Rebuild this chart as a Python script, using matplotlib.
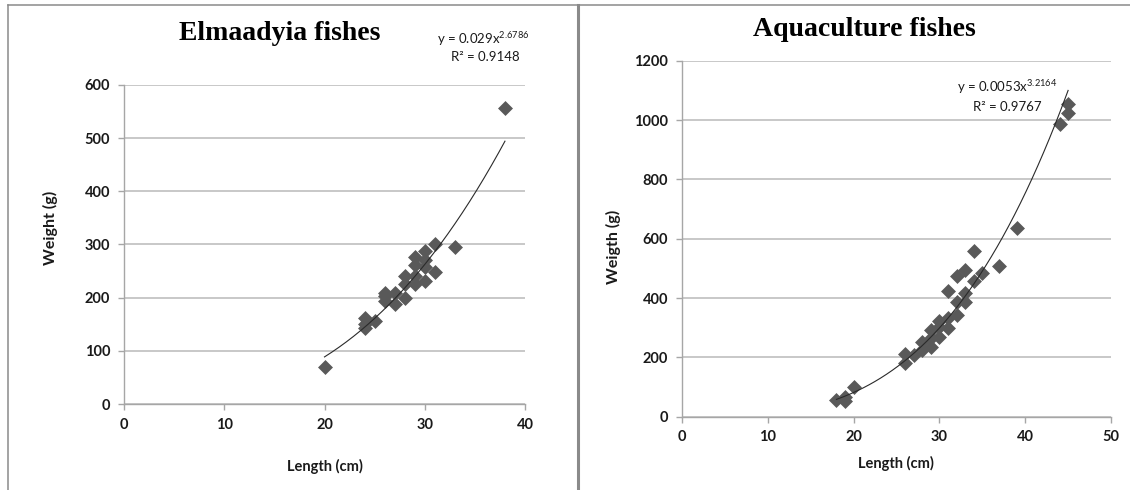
import numpy as np
import matplotlib
matplotlib.use("Agg")
import matplotlib.pyplot as plt
from matplotlib.lines import Line2D

plt.rcParams['font.family'] = ['Lato', 'DejaVu Sans']
plt.rcParams['mathtext.fontset'] = 'custom'
plt.rcParams['mathtext.rm'] = 'Lato'

# Elmaadyia fishes
elm_length = [20, 24, 24, 24, 25, 26, 26, 26, 27, 27, 28, 28, 28, 29, 29, 29, 29,
              30, 30, 30, 30, 31, 31, 33, 38]
elm_weight = [70, 162, 150, 143, 156, 203, 194, 208, 188, 209, 200, 226, 241, 241, 226, 276, 262,
              287, 257, 232, 270, 300, 249, 295, 556]
elm_fit = (0.029, 2.6786)
elm_r2 = 0.9148

# Aquaculture fishes
aq_length = [18, 19, 19, 20, 26, 26, 27, 28, 28, 29, 29, 29, 30, 30, 30, 31, 31, 31,
             32, 32, 32, 33, 33, 33, 34, 34, 35, 37, 39, 44, 45, 45]
aq_weight = [55, 54, 65, 99, 180, 211, 208, 225, 253, 234, 265, 292, 301, 321, 267, 299, 332, 422,
             343, 388, 473, 388, 417, 496, 456, 558, 485, 509, 636, 987, 1054, 1024]
aq_fit = (0.0053, 3.2164)
aq_r2 = 0.9767

W, H = 1130, 490
fig = plt.figure(figsize=(W / 100, H / 100), dpi=100)


def fx(px):
    return px / W


def fy(py):
    return 1 - py / H


def panel(rect, xs, ys, fit, xmax, ymax, ystep):
    ax = fig.add_axes(rect)
    ax.scatter(xs, ys, marker='D', s=58, color='#595959', linewidths=0, zorder=3)
    a, b = fit
    xx = np.linspace(min(xs), max(xs), 200)
    ax.plot(xx, a * xx ** b, color='#2a2a2a', lw=0.8, zorder=4)
    ax.set_xlim(0, xmax)
    ax.set_ylim(0, ymax)
    ax.set_xticks(np.arange(0, xmax + 1, 10))
    ax.set_yticks(np.arange(0, ymax + 1, ystep))
    ax.yaxis.grid(True, color='#c4c4c4', lw=1.3)
    ax.set_axisbelow(True)
    for s in ['top', 'right']:
        ax.spines[s].set_visible(False)
    for s in ['left', 'bottom']:
        ax.spines[s].set_color('#a6a6a6')
        ax.spines[s].set_linewidth(1)
    ax.tick_params(direction='out', length=4, width=1, color='#a6a6a6',
                   labelsize=10.5, pad=6, labelcolor='#1a1a1a')
    for t in ax.get_xticklabels() + ax.get_yticklabels():
        t.set_fontweight('bold')
    return ax


ax1 = panel([fx(124), fy(404), (525 - 124) / W, (404 - 85) / H],
            elm_length, elm_weight, elm_fit, 40, 600, 100)
ax2 = panel([fx(682), fy(416.5), (1111 - 682) / W, (416.5 - 61) / H],
            aq_length, aq_weight, aq_fit, 50, 1200, 200)

# titles
fig.text(fx(280), fy(34), 'Elmaadyia fishes', family='Liberation Serif',
         fontweight='bold', fontsize=20, ha='center', va='center')
fig.text(fx(864), fy(29), 'Aquaculture fishes', family='Liberation Serif',
         fontweight='bold', fontsize=20, ha='center', va='center')

# axis labels
fig.text(fx(325), fy(466), 'Length (cm)', fontsize=10.5, fontweight='bold',
         ha='center', va='center', color='#1a1a1a')
fig.text(fx(896), fy(463), 'Length (cm)', fontsize=10.5, fontweight='bold',
         ha='center', va='center', color='#1a1a1a')
fig.text(fx(50), fy(228), 'Weight (g)', fontsize=11.5, fontweight='bold',
         ha='center', va='center', rotation=90, color='#1a1a1a')
fig.text(fx(613), fy(247), 'Weigth (g)', fontsize=11.5, fontweight='bold',
         ha='center', va='center', rotation=90, color='#1a1a1a')

# trendline equations
fig.text(fx(483), fy(39), 'y = %gx$^{\\mathrm{%g}}$' % elm_fit, fontsize=9.5,
         ha='center', va='center', color='#1a1a1a')
fig.text(fx(485), fy(57), 'R² = %.4f' % elm_r2, fontsize=9.5,
         ha='center', va='center', color='#1a1a1a')
fig.text(fx(1007), fy(87), 'y = %gx$^{\\mathrm{%g}}$' % aq_fit, fontsize=9.5,
         ha='center', va='center', color='#1a1a1a')
fig.text(fx(1007), fy(107), 'R² = %.4f' % aq_r2, fontsize=9.5,
         ha='center', va='center', color='#1a1a1a')

# frame lines
fig.add_artist(Line2D([fx(8), 1], [fy(5), fy(5)], color='#8a8a8a', lw=1.1))
fig.add_artist(Line2D([fx(8), fx(8)], [fy(5), 0], color='#8a8a8a', lw=1.1))
fig.add_artist(Line2D([fx(578), fx(578)], [fy(5), 0], color='#8a8a8a', lw=2.2))

fig.savefig('out.png', dpi=100)
